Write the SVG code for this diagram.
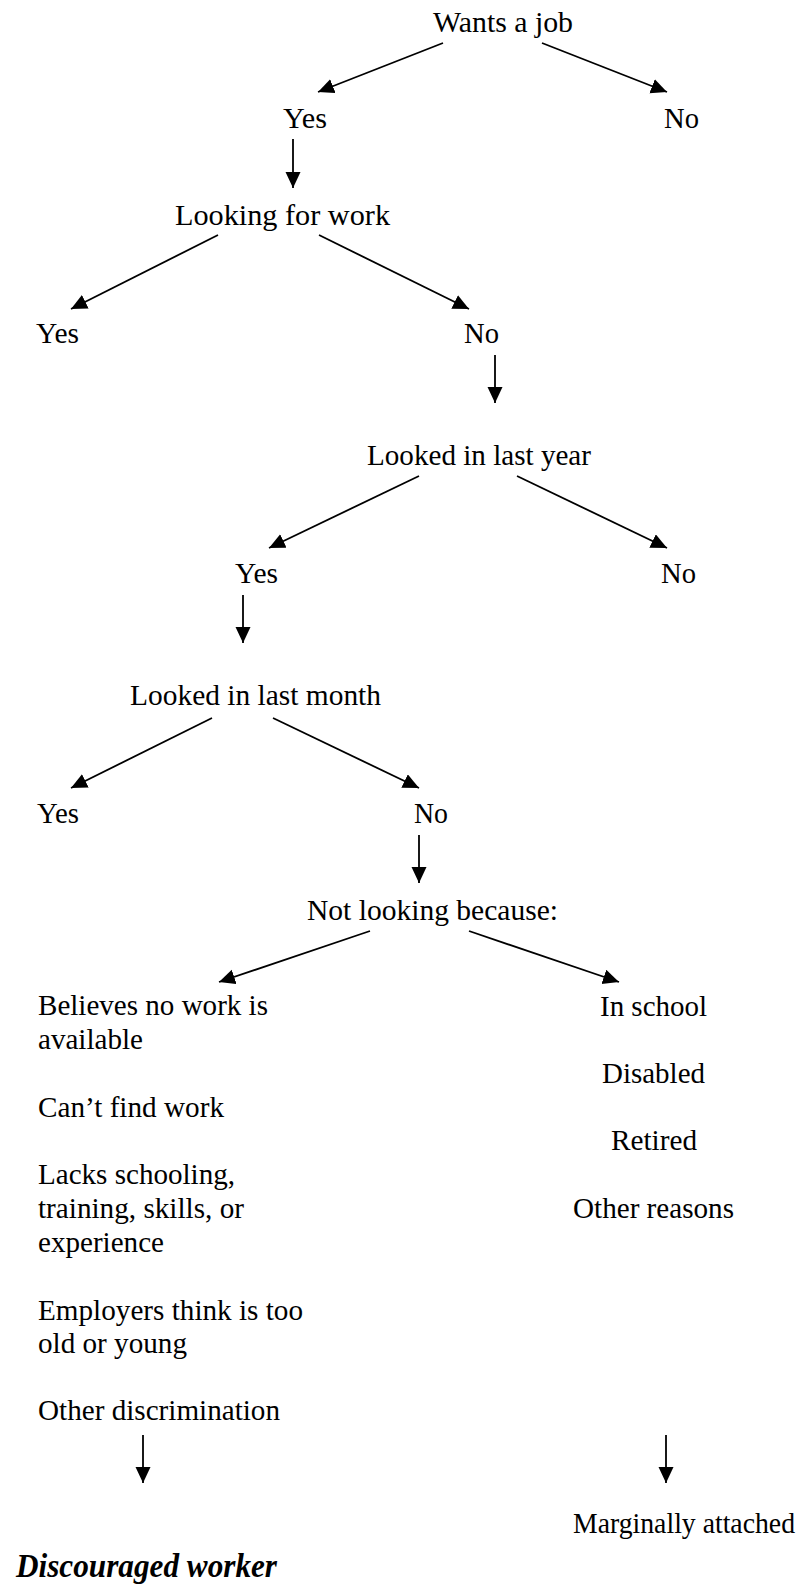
<svg xmlns="http://www.w3.org/2000/svg" width="804" height="1587" viewBox="0 0 804 1587">
<defs>
<style>
text{font-family:"Liberation Serif","Times New Roman",serif;font-size:29px;fill:#000}
.b{font-weight:bold;font-style:italic;font-size:34px}
line{stroke:#000;stroke-width:1.8}
</style>
<marker id="ah" markerUnits="userSpaceOnUse" markerWidth="17" markerHeight="16" refX="16" refY="7.5" orient="auto">
<path d="M0,0 L16,7.5 L0,15 Z" fill="#000"/>
</marker>
</defs>
<rect width="804" height="1587" fill="#fff"/>
<g id="connectors">
<line x1="443" y1="43" x2="318" y2="92" marker-end="url(#ah)"/>
<line x1="542" y1="43" x2="667" y2="92" marker-end="url(#ah)"/>
<line x1="293" y1="139" x2="293" y2="188" marker-end="url(#ah)"/>
<line x1="218" y1="235" x2="71" y2="309" marker-end="url(#ah)"/>
<line x1="319" y1="235" x2="469" y2="309" marker-end="url(#ah)"/>
<line x1="495" y1="355" x2="495" y2="403" marker-end="url(#ah)"/>
<line x1="419" y1="476" x2="269" y2="548" marker-end="url(#ah)"/>
<line x1="517" y1="476" x2="667" y2="548" marker-end="url(#ah)"/>
<line x1="243" y1="595" x2="243" y2="643" marker-end="url(#ah)"/>
<line x1="212" y1="718" x2="71" y2="788" marker-end="url(#ah)"/>
<line x1="273" y1="718" x2="419" y2="788" marker-end="url(#ah)"/>
<line x1="419" y1="835" x2="419" y2="883" marker-end="url(#ah)"/>
<line x1="370" y1="931" x2="219" y2="982" marker-end="url(#ah)"/>
<line x1="469" y1="931" x2="619" y2="982" marker-end="url(#ah)"/>
<line x1="143" y1="1435" x2="143" y2="1483" marker-end="url(#ah)"/>
<line x1="666" y1="1435" x2="666" y2="1483" marker-end="url(#ah)"/>
</g>
<g id="n-wants"><text x="433" y="32" textLength="140" lengthAdjust="spacingAndGlyphs">Wants a job</text></g>
<g id="n-yes1"><text x="283" y="128" textLength="44" lengthAdjust="spacingAndGlyphs">Yes</text></g>
<g id="n-no1"><text x="664" y="128" textLength="35" lengthAdjust="spacingAndGlyphs">No</text></g>
<g id="n-looking"><text x="175" y="225" textLength="215" lengthAdjust="spacingAndGlyphs">Looking for work</text></g>
<g id="n-yes2"><text x="36" y="343" textLength="43" lengthAdjust="spacingAndGlyphs">Yes</text></g>
<g id="n-no2"><text x="464" y="343" textLength="35" lengthAdjust="spacingAndGlyphs">No</text></g>
<g id="n-lastyear"><text x="367" y="465" textLength="224" lengthAdjust="spacingAndGlyphs">Looked in last year</text></g>
<g id="n-yes3"><text x="235" y="583" textLength="43" lengthAdjust="spacingAndGlyphs">Yes</text></g>
<g id="n-no3"><text x="661" y="583" textLength="35" lengthAdjust="spacingAndGlyphs">No</text></g>
<g id="n-lastmonth"><text x="130" y="705" textLength="251" lengthAdjust="spacingAndGlyphs">Looked in last month</text></g>
<g id="n-yes4"><text x="37" y="823" textLength="42" lengthAdjust="spacingAndGlyphs">Yes</text></g>
<g id="n-no4"><text x="414" y="823" textLength="34" lengthAdjust="spacingAndGlyphs">No</text></g>
<g id="n-notlooking"><text x="307" y="920" textLength="251" lengthAdjust="spacingAndGlyphs">Not looking because:</text></g>
<g id="n-discouraged-reasons">
<text x="38" y="1015" textLength="230" lengthAdjust="spacingAndGlyphs">Believes no work is</text>
<text x="38" y="1049" textLength="105" lengthAdjust="spacingAndGlyphs">available</text>
<text x="38" y="1117" textLength="186" lengthAdjust="spacingAndGlyphs">Can’t find work</text>
<text x="38" y="1184" textLength="197" lengthAdjust="spacingAndGlyphs">Lacks schooling,</text>
<text x="38" y="1218" textLength="206" lengthAdjust="spacingAndGlyphs">training, skills, or</text>
<text x="38" y="1252" textLength="126" lengthAdjust="spacingAndGlyphs">experience</text>
<text x="38" y="1320" textLength="265" lengthAdjust="spacingAndGlyphs">Employers think is too</text>
<text x="38" y="1353" textLength="149" lengthAdjust="spacingAndGlyphs">old or young</text>
<text x="38" y="1420" textLength="242" lengthAdjust="spacingAndGlyphs">Other discrimination</text>
</g>
<g id="n-other-reasons">
<text x="600" y="1016" textLength="107" lengthAdjust="spacingAndGlyphs">In school</text>
<text x="602" y="1083" textLength="103" lengthAdjust="spacingAndGlyphs">Disabled</text>
<text x="611" y="1150" textLength="86" lengthAdjust="spacingAndGlyphs">Retired</text>
<text x="573" y="1218" textLength="161" lengthAdjust="spacingAndGlyphs">Other reasons</text>
</g>
<g id="n-marginal"><text x="573" y="1533" textLength="222" lengthAdjust="spacingAndGlyphs">Marginally attached</text></g>
<g id="n-discouraged"><text class="b" x="16" y="1577" textLength="261" lengthAdjust="spacingAndGlyphs">Discouraged worker</text></g>
</svg>
